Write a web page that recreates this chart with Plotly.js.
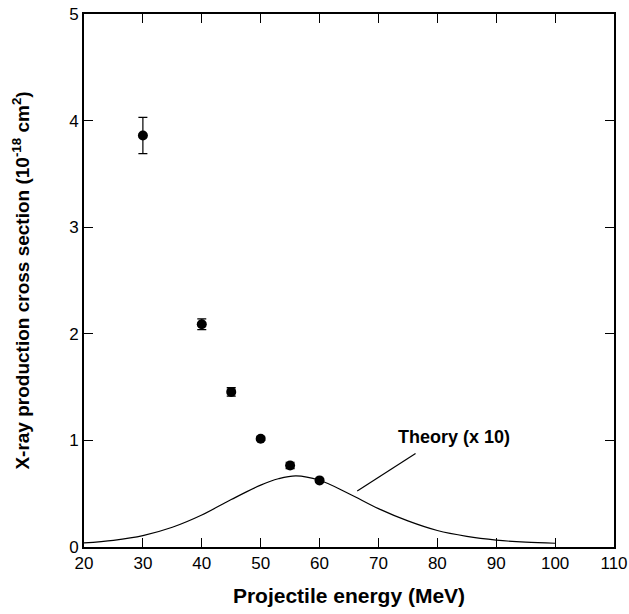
<!DOCTYPE html>
<html><head><meta charset="utf-8">
<script src="https://cdn.plot.ly/plotly-3.0.1.min.js"></script>
<style>html,body{margin:0;padding:0;background:#fff}</style>
</head><body>
<div id="chart" style="width:629px;height:614px"></div>
<script>
var energy = [30, 40, 45, 50, 55, 60];
var crossSection = [3.86, 2.09, 1.455, 1.015, 0.765, 0.625];
var errors = [0.17, 0.05, 0.04, 0.015, 0.03, 0.015];

var theoryEnergy = [20, 25, 30, 35, 40, 45, 50, 53, 56, 60, 65, 70, 75, 80, 85, 90, 95, 100];
var theoryValue = [0.038, 0.063, 0.107, 0.185, 0.30, 0.445, 0.58, 0.64, 0.668, 0.626, 0.50, 0.36, 0.245, 0.155, 0.10, 0.065, 0.045, 0.035];

var leaderX = [66.4, 76.3];
var leaderY = [0.526, 0.877];
var labelText = 'Theory (x 10)';

var traces = [
  {x: theoryEnergy, y: theoryValue, mode: 'lines', line: {color: '#000', width: 1.2, shape: 'spline', smoothing: 1}, hoverinfo: 'skip'},
  {x: leaderX, y: leaderY, mode: 'lines', line: {color: '#000', width: 1.2}, hoverinfo: 'skip'},
  {x: energy, y: crossSection, mode: 'markers', marker: {color: '#000', size: 10},
   error_y: {type: 'data', array: errors, visible: true, color: '#000', thickness: 1.2, width: 4.5}}
];

var layout = {
  width: 629, height: 614,
  margin: {l: 84, r: 15, t: 14, b: 67},
  showlegend: false,
  paper_bgcolor: '#fff', plot_bgcolor: '#fff',
  font: {family: 'Liberation Sans, Arial, sans-serif', color: '#000'},
  xaxis: {
    range: [20, 110], tickvals: [20, 30, 40, 50, 60, 70, 80, 90, 100, 110],
    ticks: 'inside', ticklen: 9, tickwidth: 1.2, tickcolor: '#000',
    showline: true, linecolor: '#000', linewidth: 2, mirror: 'ticks',
    showgrid: false, zeroline: false,
    tickfont: {size: 17},
    title: {text: '<b>Projectile energy (MeV)</b>', font: {size: 21}, standoff: 16}
  },
  yaxis: {
    range: [0, 5], tickvals: [0, 1, 2, 3, 4, 5],
    ticks: 'inside', ticklen: 9, tickwidth: 1.2, tickcolor: '#000',
    showline: true, linecolor: '#000', linewidth: 2, mirror: 'ticks',
    showgrid: false, zeroline: false,
    tickfont: {size: 17},
    title: {text: '<b>X-ray production cross section (10<sup>-18</sup> cm<sup>2</sup>)</b>', font: {size: 19}, standoff: 34}
  },
  annotations: [
    {x: 82.9, y: 1.03, xref: 'x', yref: 'y', text: '<b>' + labelText + '</b>', showarrow: false,
     font: {size: 18, color: '#000'}}
  ]
};

Plotly.newPlot('chart', traces, layout, {displayModeBar: false, staticPlot: true});
</script>
</body></html>
